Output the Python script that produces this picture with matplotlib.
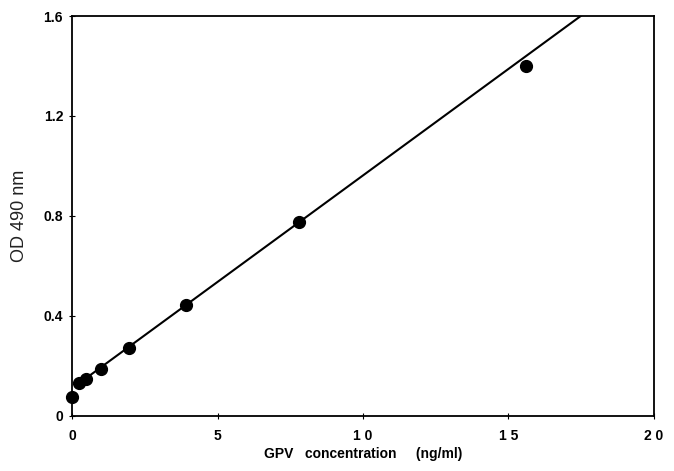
import matplotlib
matplotlib.use('Agg')
import matplotlib.pyplot as plt

# GPV standard curve (ELISA)
conc = [0.0, 0.24, 0.49, 0.98, 1.95, 3.9, 7.8, 15.6]
od490 = [0.076, 0.132, 0.148, 0.188, 0.272, 0.444, 0.776, 1.40]

# linear fit drawn through the standards
fit_slope = 0.0852
fit_intercept = 0.110
fit_range = [0.24, 20.0]

x_ticks = [0, 5, 10, 15, 20]
x_ticklabels = ['0', '5', '1 0', '1 5', '2 0']
y_ticks = [0, 0.4, 0.8, 1.2, 1.6]
y_ticklabels = ['0', '0.4', '0.8', '1.2', '1.6']

plt.rcParams['font.family'] = ['Liberation Sans', 'DejaVu Sans']

fig = plt.figure(figsize=(6.74, 4.71), dpi=100)
ax = fig.add_axes([0.107, 0.117, 0.863, 0.849])

fit_y = [fit_intercept + fit_slope * x for x in fit_range]
ax.plot(fit_range, fit_y, color='black', linewidth=1.5, zorder=2)
ax.plot(conc, od490, 'o', color='black', markersize=8.5, zorder=3, clip_on=False)

ax.set_xlim(0, 20)
ax.set_ylim(0, 1.6)
ax.set_xticks(x_ticks)
ax.set_xticklabels(x_ticklabels, fontweight='bold', fontsize=10)
ax.set_yticks(y_ticks)
ax.set_yticklabels(y_ticklabels, fontweight='bold', fontsize=10)
ax.tick_params(direction='inout', length=5, width=0.8, pad=4)
ax.tick_params(axis='x', pad=7)

for s in ax.spines.values():
    s.set_linewidth(1.3)

ax.set_xlabel('GPV   concentration     (ng/ml)', fontweight='bold', fontsize=10, labelpad=3)
ax.set_ylabel('OD 490 nm', fontsize=13, color='#222222', labelpad=11)

fig.savefig('out.png', dpi=100)
